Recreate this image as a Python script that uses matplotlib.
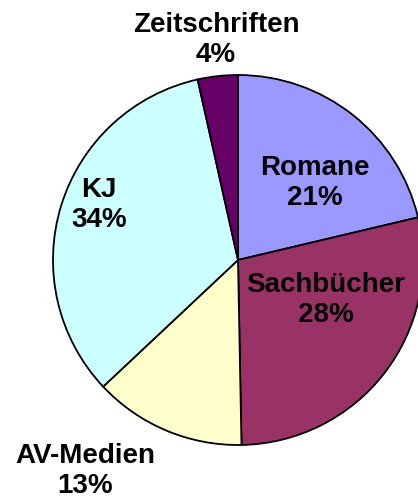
import matplotlib
matplotlib.use("Agg")
import matplotlib.pyplot as plt

categories = ["Romane", "Sachbücher", "AV-Medien", "KJ", "Zeitschriften"]
shares = [21.3, 28.4, 13.3, 33.5, 3.5]
colors = ["#9999FF", "#993366", "#FFFFCC", "#CCFFFF", "#660066"]

# label centres in pixel coordinates (x, y from top)
label_pos = [(315, 183), (326, 300), (85, 471), (99, 205), (216, 40)]

W, H = 418, 503
fig = plt.figure(figsize=(W / 100, H / 100), dpi=100)
ax = fig.add_axes([0, 0, 1, 1])

ax.pie(shares, colors=colors, startangle=90, counterclock=False,
       center=(238, H - 260), radius=185, frame=True,
       wedgeprops=dict(edgecolor="black", linewidth=1.3))
ax.set_xlim(0, W)
ax.set_ylim(0, H)
ax.set_aspect("equal")
ax.axis("off")

for name, val, (x, y) in zip(categories, shares, label_pos):
    ax.text(x, H - y, f"{name}\n{val:.0f}%", ha="center", va="center",
            fontsize=20, fontweight="bold", family="Liberation Sans",
            linespacing=1.2, color="black")

fig.savefig("out.png", dpi=100)
